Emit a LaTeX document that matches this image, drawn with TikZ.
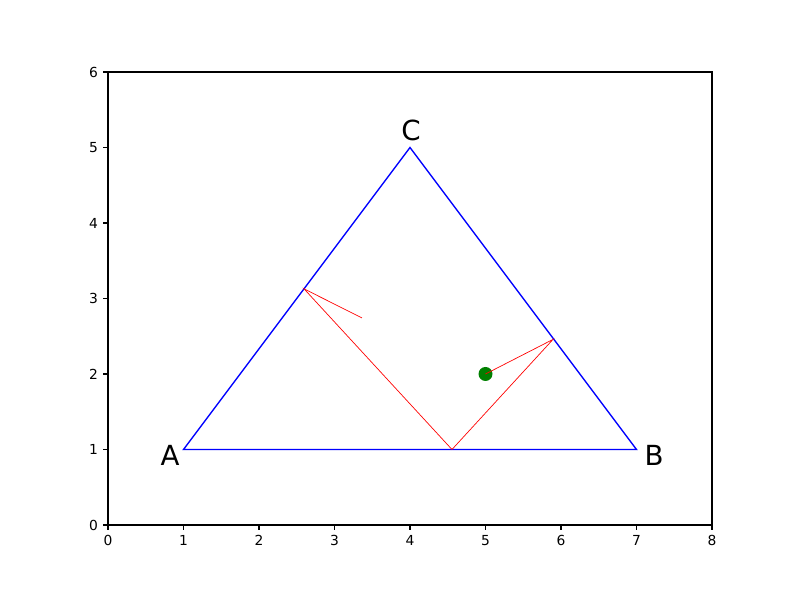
\documentclass[tikz,border=0pt]{standalone}
\usepackage{fontspec}
\setmainfont{DejaVu Sans}
\usepackage{tikz}
\usetikzlibrary{positioning}
\definecolor{mplblue}{RGB}{0,0,255}
\definecolor{mplred}{RGB}{255,0,0}
\definecolor{mplgreen}{RGB}{0,128,0}

\begin{document}
\begin{tikzpicture}[x=0.755in,y=0.755in,
  every node/.style={font=\fontsize{10}{12}\selectfont},
  spine/.style={draw=black,line width=0.8pt},
  tick/.style={black,line width=0.8pt},
  side/.style={draw=mplblue,line width=1pt},
  ray/.style={draw=mplred,line width=0.5pt},
  vlbl/.style={font=\fontsize{20}{24}\selectfont,inner sep=0pt}]
\useasboundingbox (-1.4305,-0.9934) rectangle (9.1656,6.9536);
% axes
\draw[spine] (0,0) rectangle (8,6);
\foreach \x in {0,...,8} {
  \draw[tick] (\x,0) -- ++(0,-3.5pt);
  \node[anchor=north,inner sep=0pt] at ([yshift=-7pt]\x,0) {\x};
}
\foreach \y in {0,...,6} {
  \draw[tick] (0,\y) -- ++(-3.5pt,0);
  \node[anchor=east,inner sep=0pt] at ([xshift=-7pt]0,\y) {\y};
}
% triangle
\coordinate (A) at (1,1);
\coordinate (B) at (7,1);
\coordinate (C) at (4,5);
\draw[side] (A) -- (B) -- (C) -- cycle;
\node[vlbl] (lA) at (0.821,0.927) {A};
\node[vlbl] (lB) at (7.232,0.927) {B};
\node[vlbl] (lC) at (4.013,5.232) {C};
% ray
\coordinate (s) at (5,2);
\coordinate (h1) at (5.894,2.458);
\coordinate (h2) at (4.556,1);
\coordinate (h3) at (2.596,3.128);
\coordinate (e) at (3.364,2.742);
\fill[mplgreen] (s) circle (0.0927);
\draw[ray] (s) -- (h1) -- (h2) -- (h3) -- (e);
\end{tikzpicture}
\end{document}
